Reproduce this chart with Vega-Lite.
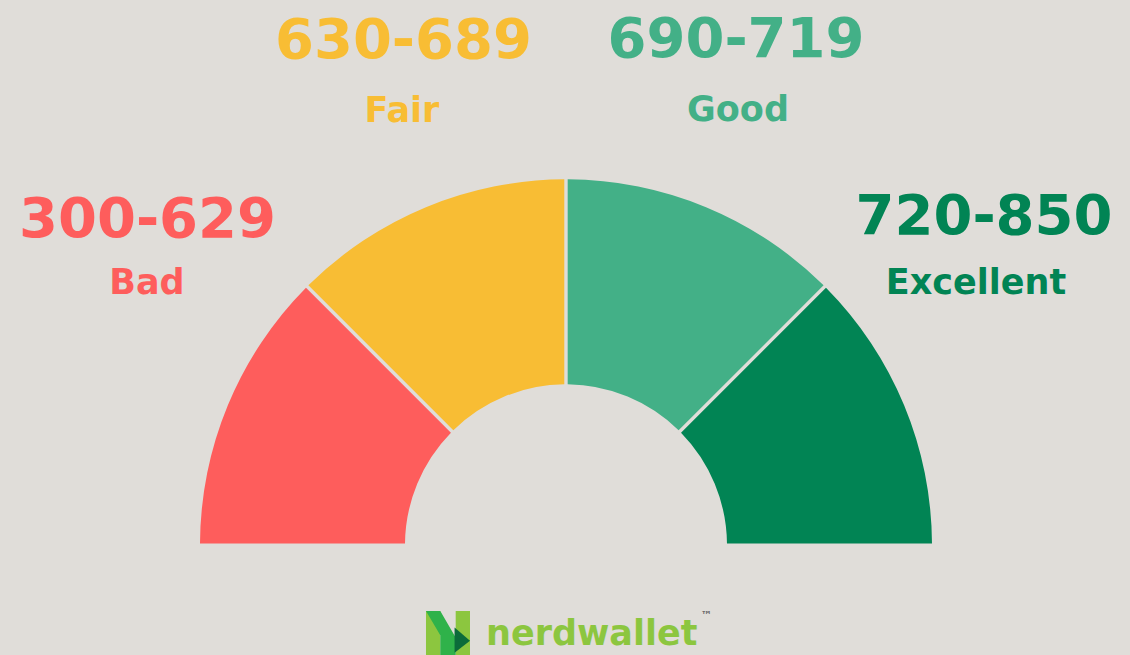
{
  "$schema": "https://vega.github.io/schema/vega-lite/v6.json",
  "width": 1130,
  "height": 655,
  "autosize": {"type": "fit", "contains": "padding"},
  "padding": 0,
  "background": "#e0ddd9",
  "config": {"view": {"stroke": null}},
  "datasets": {
    "segments": [
      {"band": "Bad", "range": "300-629", "i": 1, "share": 1, "cx": 0, "cy": 0},
      {"band": "Fair", "range": "630-689", "i": 2, "share": 1, "cx": 0, "cy": 0},
      {"band": "Good", "range": "690-719", "i": 3, "share": 1, "cx": 0, "cy": 0},
      {"band": "Excellent", "range": "720-850", "i": 4, "share": 1, "cx": 0, "cy": 0}
    ],
    "labels": [
      {"text": "300-629", "band": "Bad", "kind": "range", "lx": -1.1434, "ly": 0.8443},
      {"text": "Bad", "band": "Bad", "kind": "name", "lx": -1.1448, "ly": 0.6885},
      {"text": "630-689", "band": "Fair", "kind": "range", "lx": -0.444, "ly": 1.3361},
      {"text": "Fair", "band": "Fair", "kind": "name", "lx": -0.4481, "ly": 1.1612},
      {"text": "690-719", "band": "Good", "kind": "range", "lx": 0.4645, "ly": 1.3388},
      {"text": "Good", "band": "Good", "kind": "name", "lx": 0.47, "ly": 1.1639},
      {"text": "720-850", "band": "Excellent", "kind": "range", "lx": 1.1421, "ly": 0.8525},
      {"text": "Excellent", "band": "Excellent", "kind": "name", "lx": 1.1202, "ly": 0.6885}
    ],
    "brand": [
      {"text": "nerdwallet", "bx": -0.2186, "by": -0.2732}
    ],
    "tm": [
      {"text": "™", "tx": 0.3689, "ty": -0.2022}
    ],
    "logo": [
      {"part": "lime", "gx": -0.3224, "gy": -0.2404},
      {"part": "green", "gx": -0.3224, "gy": -0.2404},
      {"part": "dark", "gx": -0.3224, "gy": -0.2404}
    ]
  },
  "encoding": {},
  "layer": [
    {
      "data": {"name": "segments"},
      "mark": {"type": "arc", "radius": 366, "radius2": 161, "padAngle": 0.0085},
      "encoding": {
        "x": {"field": "cx", "type": "quantitative", "scale": {"domain": [-1.5464, 1.541], "nice": false, "zero": false}, "axis": null},
        "y": {"field": "cy", "type": "quantitative", "scale": {"domain": [-0.2951, 1.4945], "nice": false, "zero": false}, "axis": null},
        "theta": {"field": "share", "type": "quantitative", "stack": true, "scale": {"range": [-1.5708, 1.5708]}},
        "order": {"field": "i", "type": "quantitative"},
        "color": {"field": "band", "type": "nominal", "scale": {"domain": ["Bad", "Fair", "Good", "Excellent"], "range": ["#fe5d5c", "#f8bd34", "#43b087", "#018454"]}, "legend": null}
      }
    },
    {
      "data": {"name": "labels"},
      "transform": [{"filter": "datum.kind === 'range'"}],
      "mark": {"type": "text", "font": "DejaVu Sans", "fontWeight": "bold", "fontSize": 56, "baseline": "alphabetic", "align": "center"},
      "encoding": {
        "x": {"field": "lx", "type": "quantitative"},
        "y": {"field": "ly", "type": "quantitative"},
        "text": {"field": "text"},
        "color": {"field": "band", "type": "nominal", "legend": null}
      }
    },
    {
      "data": {"name": "labels"},
      "transform": [{"filter": "datum.kind === 'name'"}],
      "mark": {"type": "text", "font": "DejaVu Sans", "fontWeight": "bold", "fontSize": 35, "baseline": "alphabetic", "align": "center"},
      "encoding": {
        "x": {"field": "lx", "type": "quantitative"},
        "y": {"field": "ly", "type": "quantitative"},
        "text": {"field": "text"},
        "color": {"field": "band", "type": "nominal", "legend": null}
      }
    },
    {
      "data": {"name": "brand"},
      "mark": {"type": "text", "font": "DejaVu Sans", "fontWeight": "bold", "fontSize": 35, "baseline": "alphabetic", "align": "left", "color": "#8cc63f"},
      "encoding": {
        "x": {"field": "bx", "type": "quantitative"},
        "y": {"field": "by", "type": "quantitative"},
        "text": {"field": "text"}
      }
    },
    {
      "data": {"name": "tm"},
      "mark": {"type": "text", "font": "DejaVu Sans", "fontWeight": "bold", "fontSize": 11, "baseline": "alphabetic", "align": "left", "color": "#6a6a6a"},
      "encoding": {
        "x": {"field": "tx", "type": "quantitative"},
        "y": {"field": "ty", "type": "quantitative"},
        "text": {"field": "text"}
      }
    },
    {
      "data": {"name": "logo"},
      "transform": [{"filter": "datum.part === 'lime'"}],
      "mark": {"type": "point", "filled": true, "opacity": 1, "size": 1936, "color": "#8cc63f", "shape": "M-1,-1H-0.35V1H-1Z M0.35,-1H1V1H0.35Z"},
      "encoding": {
        "x": {"field": "gx", "type": "quantitative"},
        "y": {"field": "gy", "type": "quantitative"}
      }
    },
    {
      "data": {"name": "logo"},
      "transform": [{"filter": "datum.part === 'green'"}],
      "mark": {"type": "point", "filled": true, "opacity": 1, "size": 1936, "color": "#2fb24a", "shape": "M-1,-1L-0.35,-1L0.35,0.2L0.35,1L-0.35,1L-0.35,0.1Z"},
      "encoding": {
        "x": {"field": "gx", "type": "quantitative"},
        "y": {"field": "gy", "type": "quantitative"}
      }
    },
    {
      "data": {"name": "logo"},
      "transform": [{"filter": "datum.part === 'dark'"}],
      "mark": {"type": "point", "filled": true, "opacity": 1, "size": 1936, "color": "#0b6b3a", "shape": "M0.3,-0.25L1,0.35L0.3,0.9Z"},
      "encoding": {
        "x": {"field": "gx", "type": "quantitative"},
        "y": {"field": "gy", "type": "quantitative"}
      }
    }
  ]
}
